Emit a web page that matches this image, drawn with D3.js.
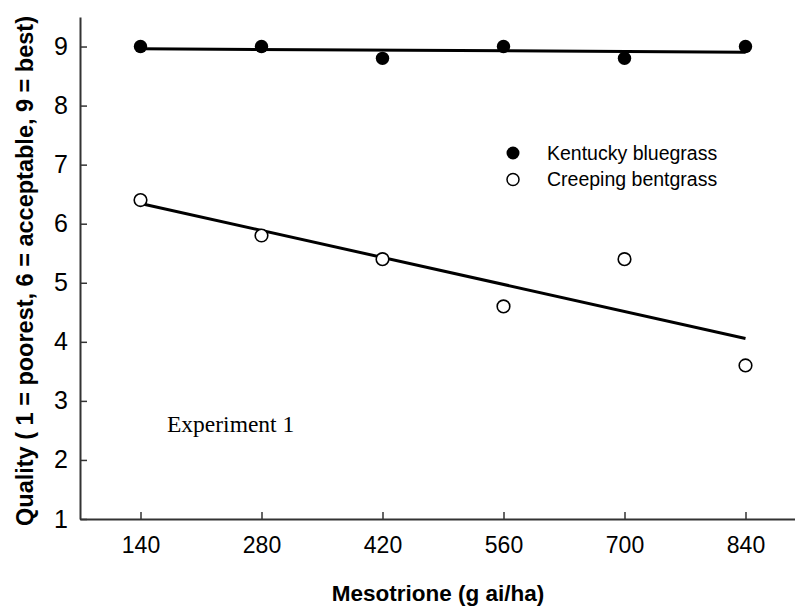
<!DOCTYPE html>
<html><head><meta charset="utf-8">
<script src="https://cdn.jsdelivr.net/npm/d3@7"></script>
<style>body{margin:0;background:#fff}svg{display:block}</style>
</head><body>
<svg id="chart" width="795" height="607"></svg>
<script>
const rates = [140, 280, 420, 560, 700, 840];
const kentuckyBluegrass = [9, 9, 8.8, 9, 8.8, 9];
const creepingBentgrass = [6.4, 5.8, 5.4, 4.6, 5.4, 3.6];
const yTicks = [1, 2, 3, 4, 5, 6, 7, 8, 9];
const seriesNames = ["Kentucky bluegrass", "Creeping bentgrass"];

const svg = d3.select("#chart");
const x = d3.scaleLinear().domain([70, 910]).range([80, 806]);
const y = d3.scaleLinear().domain([1, 9.5]).range([519, 17]);

function fit(xs, ys) {
  const mx = d3.mean(xs), my = d3.mean(ys);
  let num = 0, den = 0;
  xs.forEach((v, i) => { num += (v - mx) * (ys[i] - my); den += (v - mx) ** 2; });
  const b = num / den, a = my - b * mx;
  return v => a + b * v;
}

const sans = "Arial, 'Liberation Sans', sans-serif";
const axisColor = "#333";
// Y axis
const yAxis = svg.append("g").attr("transform", "translate(80,0)")
  .call(d3.axisLeft(y).tickValues(yTicks).tickSize(-7).tickPadding(12).tickSizeOuter(0));
yAxis.select(".domain").attr("stroke", axisColor).attr("stroke-width", 2);
yAxis.selectAll(".tick line").attr("stroke", axisColor).attr("stroke-width", 1.5);
yAxis.selectAll("text").attr("font-family", sans).attr("font-size", 25).attr("fill", "#000");

// X axis
const xAxis = svg.append("g").attr("transform", "translate(0,519)")
  .call(d3.axisBottom(x).tickValues(rates).tickSize(-7).tickPadding(18).tickSizeOuter(0));
xAxis.select(".domain").attr("stroke", axisColor).attr("stroke-width", 2);
xAxis.selectAll(".tick line").attr("stroke", axisColor).attr("stroke-width", 1.5);
xAxis.selectAll("text").attr("font-family", sans).attr("font-size", 23).attr("fill", "#000");

// Axis titles
svg.append("text").attr("x", 438).attr("y", 601).attr("text-anchor", "middle")
  .attr("font-family", sans).attr("font-weight", "bold").attr("font-size", 22.5)
  .text("Mesotrione (g ai/ha)");
svg.append("text").attr("transform", "translate(33,271) rotate(-90)").attr("text-anchor", "middle")
  .attr("font-family", sans).attr("font-weight", "bold").attr("font-size", 23.5)
  .text("Quality ( 1 = poorest, 6 = acceptable, 9 = best)");

// Regression lines
[kentuckyBluegrass, creepingBentgrass].forEach(vals => {
  const f = fit(rates, vals);
  const x0 = rates[0], x1 = rates[rates.length - 1];
  svg.append("line").attr("x1", x(x0)).attr("y1", y(f(x0))).attr("x2", x(x1)).attr("y2", y(f(x1)))
    .attr("stroke", "#000").attr("stroke-width", 3);
});

// Points
svg.append("g").selectAll("circle").data(rates.map((r, i) => [r, kentuckyBluegrass[i]])).join("circle")
  .attr("cx", d => x(d[0])).attr("cy", d => y(d[1])).attr("r", 6.7).attr("fill", "#000");
svg.append("g").selectAll("circle").data(rates.map((r, i) => [r, creepingBentgrass[i]])).join("circle")
  .attr("cx", d => x(d[0])).attr("cy", d => y(d[1])).attr("r", 6.3).attr("fill", "#fff").attr("stroke", "#000").attr("stroke-width", 1.6);

// Legend
const lg = svg.append("g");
seriesNames.forEach((name, i) => {
  const cy = 153 + i * 26.5;
  lg.append("circle").attr("cx", 513).attr("cy", cy).attr("r", i === 0 ? 6.5 : 6)
    .attr("fill", i === 0 ? "#000" : "#fff").attr("stroke", "#000").attr("stroke-width", i === 0 ? 0 : 1.5);
  lg.append("text").attr("x", 547).attr("y", cy + 6.5)
    .attr("font-family", sans).attr("font-size", 19.5).text(name);
});

// Annotation
svg.append("text").attr("x", 167).attr("y", 432)
  .attr("font-family", "'Times New Roman', 'Liberation Serif', serif").attr("font-size", 23.5)
  .text("Experiment 1");
</script>
</body></html>
